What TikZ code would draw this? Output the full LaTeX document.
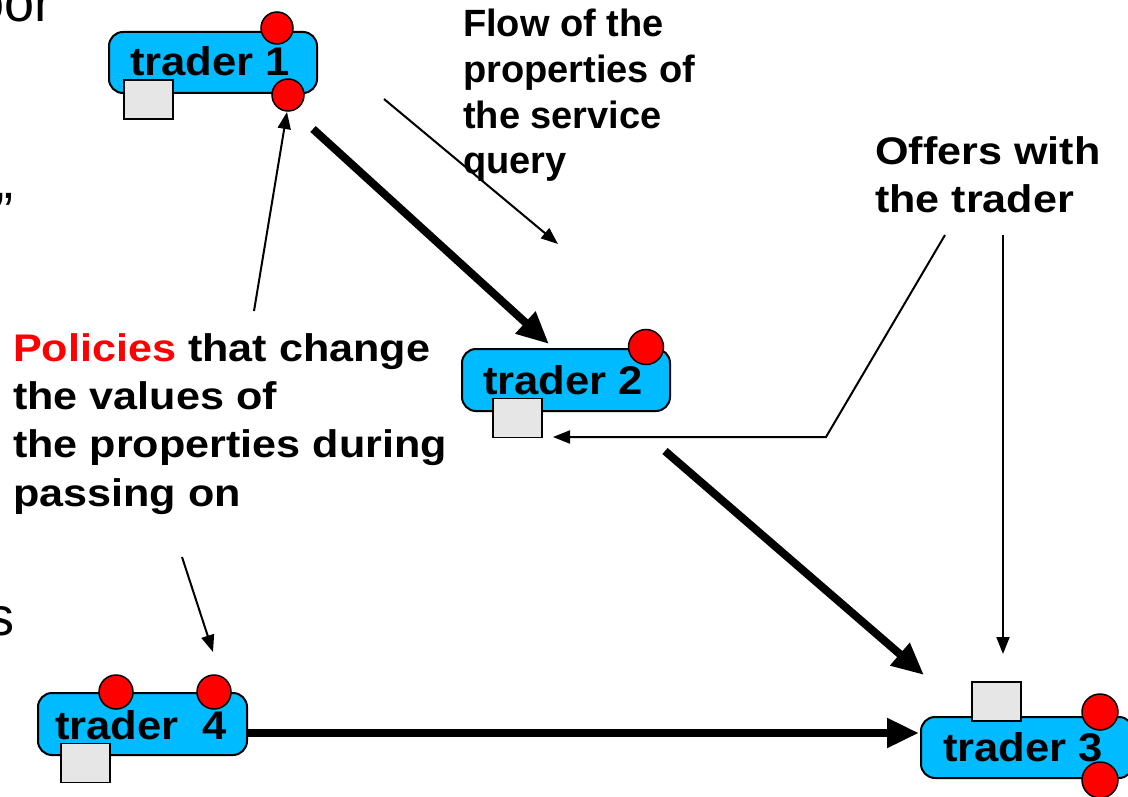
\documentclass[tikz,border=0pt]{standalone}
\usepackage{fontspec}
\setmainfont{Liberation Sans}
\newfontfamily\wfont[FakeStretch=1.12]{Liberation Sans}
\newfontfamily\lfont[FakeStretch=1.09]{Liberation Sans}
\usetikzlibrary{arrows.meta}
\definecolor{tcyan}{RGB}{0,187,255}
\definecolor{tgrey}{RGB}{230,230,230}
\definecolor{tred}{RGB}{255,0,0}
\tikzset{
  tbox/.style={draw=black, line width=2pt, fill=tcyan, rounded corners=14pt, inner sep=0pt},
  sq/.style={draw=black, line width=1.3pt, fill=tgrey, inner sep=0pt, minimum width=49pt, minimum height=39pt},
  dot/.style={circle, draw=black, line width=1.5pt, fill=tred, inner sep=0pt, minimum size=#1},
  dot/.default=33pt,
  tlabel/.style={anchor=base west, inner sep=0pt, font=\lfont\bfseries\fontsize{40}{46}\selectfont},
  wtext/.style={anchor=base west, inner sep=0pt, font=\wfont\bfseries\fontsize{38.5}{46}\selectfont},
  ntext/.style={anchor=base west, inner sep=0pt, font=\bfseries\fontsize{38}{46}\selectfont},
  frag/.style={anchor=base east, inner sep=0pt, font=\fontsize{54}{60}\selectfont},
  thick arrow/.style={line width=8pt, -{Triangle[length=32pt,width=28pt]}},
  thin arrow/.style={line width=2pt, -{Triangle[length=17pt,width=13pt]}},
}
\begin{document}
\begin{tikzpicture}[x=1pt,y=-1pt]
\useasboundingbox (0,0) rectangle (1128,797);
\clip (0,0) rectangle (1128,797);
\fill[white] (0,0) rectangle (1128,797);

% fragments at the left edge
\node[frag] (fragA) at (53,22) {oor};
\node[frag] (fragB) at (14,230) {”};
\node[frag] (fragC) at (15,635) {s};

% trader 1
\node[tbox, minimum width=208pt, minimum height=61pt] (t1) at (213,62.5) {};
\node[sq] (t1sq) at (148.5,99.5) {};
\node[dot=32pt] (t1c1) at (277,28) {};
\node[dot=32pt] (t1c2) at (288,95) {};
\node[tlabel] (t1l) at (130,76) {trader 1};

% trader 2
\node[tbox, minimum width=208pt, minimum height=62pt] (t2) at (566,380) {};
\node[sq] (t2sq) at (517.5,418) {};
\node[dot=35pt] (t2c1) at (646,347) {};
\node[tlabel] (t2l) at (483,394) {trader 2};

% trader 3
\node[tbox, minimum width=212pt, minimum height=61pt] (t3) at (1027,747.5) {};
\node[sq] (t3sq) at (996.5,701.5) {};
\node[dot=36pt] (t3c1) at (1100,712) {};
\node[dot=36pt] (t3c2) at (1100,780) {};
\node[tlabel] (t3l) at (943,761) {trader 3};

% trader 4
\node[tbox, minimum width=209pt, minimum height=62pt] (t4) at (142.5,724) {};
\node[sq] (t4sq) at (85.5,763) {};
\node[dot=34pt] (t4c1) at (116,692) {};
\node[dot=34pt] (t4c2) at (214,692) {};
\node[tlabel] (t4l) at (55,739) {trader\ \ 4};

% texts
\node[ntext] (fl1) at (463,37) {Flow of the};
\node[ntext] (fl2) at (463,83) {properties of};
\node[ntext] (fl3) at (463,129) {the service};
\node[ntext] (fl4) at (463,174) {query};

\node[wtext] (of1) at (875,165) {Offers with};
\node[wtext] (of2) at (875,212) {the trader};

\node[wtext] (po1) at (13,361) {\textcolor{tred}{Policies} that change};
\node[wtext] (po2) at (13,409) {the values of};
\node[wtext] (po3) at (13,457) {the properties during};
\node[wtext] (po4) at (13,506) {passing on};

% connector end points
\coordinate (a1s) at (313,129);
\coordinate (a1e) at (549,344);
\coordinate (a2s) at (665,451);
\coordinate (a2e) at (924,675);
\coordinate (a3s) at (247,733);
\coordinate (a3e) at (919,733);
\coordinate (f1) at (384,99);
\coordinate (f2) at (558,244);
\coordinate (p1) at (254,311);
\coordinate (p2) at (287,112);
\coordinate (p3) at (182,557);
\coordinate (p4) at (213,652);
\coordinate (o1) at (945,235);
\coordinate (o2) at (826,437);
\coordinate (o3) at (553,437);
\coordinate (o4) at (1003,235);
\coordinate (o5) at (1003,654);

% thick arrows
\draw[thick arrow] (a1s) -- (a1e);
\draw[thick arrow] (a2s) -- (a2e);
\draw[thick arrow] (a3s) -- (a3e);

% thin arrows
\draw[thin arrow] (f1) -- (f2);
\draw[thin arrow] (p1) -- (p2);
\draw[thin arrow] (p3) -- (p4);
\draw[thin arrow] (o1) -- (o2) -- (o3);
\draw[thin arrow] (o4) -- (o5);
\end{tikzpicture}
\end{document}
